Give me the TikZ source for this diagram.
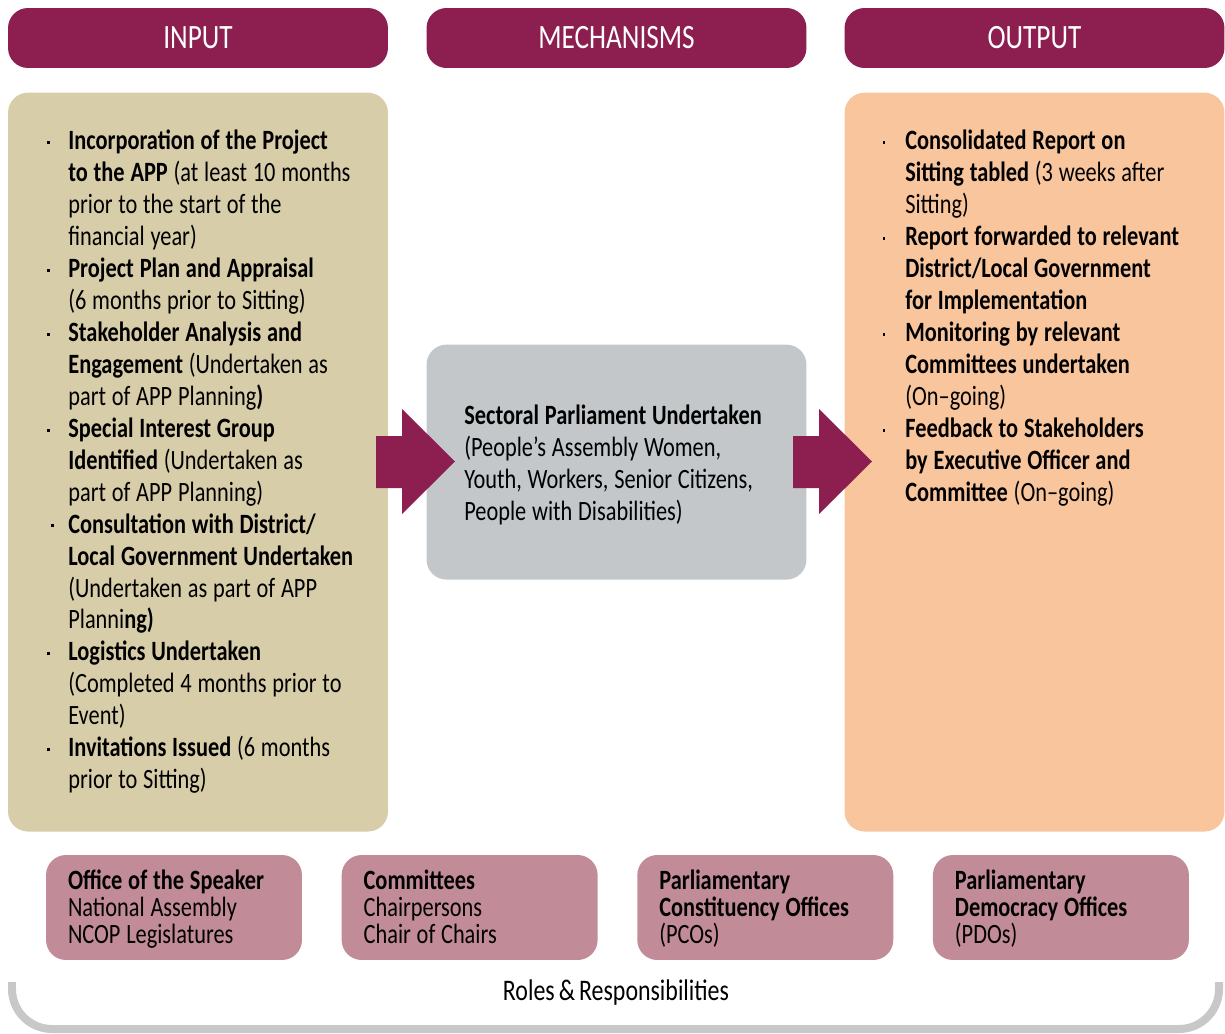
\documentclass[tikz,border=0pt]{standalone}
\usepackage{fontspec}
\setmainfont{Carlito}[FakeStretch=0.8, WordSpace=0.75]
\usetikzlibrary{positioning}

\definecolor{wine}{RGB}{140,31,80}
\definecolor{sand}{RGB}{216,205,169}
\definecolor{stone}{RGB}{195,199,201}
\definecolor{peach}{RGB}{248,197,156}
\definecolor{rose}{RGB}{194,139,152}
\definecolor{rail}{RGB}{200,200,200}

\newcommand\bul{\leavevmode\llap{\rule[0.2em]{0.06cm}{0.06cm}\hspace{0.36cm}}}
\newcommand\cbul{\leavevmode\llap{\rule[0.2em]{0.06cm}{0.06cm}\hspace{0.28cm}}}
\newcommand\obul{\leavevmode\llap{\rule[0.2em]{0.045cm}{0.045cm}\hspace{0.4cm}}}
\newcommand\topstrut{\rule{0pt}{15.3pt}}
\newcommand\tightsp{\spaceskip=3.3pt plus 1pt\relax}

\tikzset{
  hdr/.style={fill=wine, rounded corners=0.4cm, minimum width=7.6cm, minimum height=1.2cm,
    text=white, font=\fontsize{19.4}{22}\selectfont},
  panel/.style={rounded corners=0.4cm, minimum width=7.6cm, minimum height=14.78cm},
  body/.style={anchor=north west, inner sep=0pt, text width=6.8cm, align=left,
    font=\fontsize{15.9}{18.2}\selectfont, execute at begin node=\tightsp},
  role/.style={fill=rose, rounded corners=0.4cm, minimum width=5.12cm, minimum height=2.1cm,
    inner xsep=0.44cm, text width=4.24cm, align=left,
    font=\fontsize{15.9}{15.4}\selectfont, execute at begin node=\tightsp},
  blockarrow/.style={fill=wine}
}

\begin{document}
\begin{tikzpicture}[x=0.02cm, y=-0.02cm]
\useasboundingbox (0,0) rectangle (1225,1034);

% headers
\node[hdr] (input) at (198,38) {INPUT};
\node[hdr] (mech) at (616.5,38) {MECHANISMS};
\node[hdr] (output) at (1034.5,38) {OUTPUT};

% columns
\node[panel, fill=sand, below=0.48cm of input] (inp) {};
\node[panel, fill=peach, below=0.48cm of output] (out) {};
\node[panel, fill=stone, minimum height=4.7cm, below=5.52cm of mech] (sect) {};

\fill[blockarrow] (376,436) -- (402,436) -- (402,409) -- (455,461.5) -- (402,514) -- (402,488) -- (376,488) -- cycle;
\fill[blockarrow] (793,436) -- (819,436) -- (819,409) -- (872,461.5) -- (819,514) -- (819,488) -- (793,488) -- cycle;

\node[body] (inptxt) at (68,126.6) {\strut\bul\textbf{Incorporation of the Project}\\
\textbf{to the APP} (at least 10 months\\
prior to the start of the\\
financial year)\\
\bul\textbf{Project Plan and Appraisal}\\
(6 months prior to Sitting)\\
\bul\textbf{Stakeholder Analysis and}\\
\textbf{Engagement} (Undertaken as\\
part of APP Planning\textbf{)}\\
\bul\textbf{Special Interest Group}\\
\textbf{Identified} (Undertaken as\\
part of APP Planning)\\
\cbul\textbf{Consultation with District/}\\
\textbf{Local Government Undertaken}\\
(Undertaken as part of APP\\
Planni\textbf{ng)}\\
\bul\textbf{Logistics Undertaken}\\
(Completed 4 months prior to\\
Event)\\
\bul\textbf{Invitations Issued} (6 months\\
prior to Sitting)};

\node[body] (secttxt) at (464,401.6) {\strut\textbf{Sectoral Parliament Undertaken}\\
(People's Assembly Women,\\
Youth, Workers, Senior Citizens,\\
People with Disabilities)};

\node[body] (outtxt) at (905,126.6) {\strut\obul\textbf{Consolidated Report on}\\
\textbf{Sitting tabled} (3 weeks after\\
Sitting)\\
\obul\textbf{Report forwarded to relevant}\\
\textbf{District/Local Government}\\
\textbf{for Implementation}\\
\obul\textbf{Monitoring by relevant}\\
\textbf{Committees undertaken}\\
(On--going)\\
\obul\textbf{Feedback to Stakeholders}\\
\textbf{by Executive Officer and}\\
\textbf{Committee} (On--going)};

% roles
\node[role] (speaker) at (174,907.5) {\topstrut\textbf{Office of the Speaker}\\ National Assembly\\ NCOP Legislatures\strut};
\node[role, right=0.78cm of speaker] (comm) {\topstrut\textbf{Committees}\\ Chairpersons\\ Chair of Chairs\strut};
\node[role, right=0.78cm of comm] (pco) {\topstrut\textbf{Parliamentary}\\ \textbf{Constituency Offices}\\ (PCOs)\strut};
\node[role, right=0.78cm of pco] (pdo) {\topstrut\textbf{Parliamentary}\\ \textbf{Democracy Offices}\\ (PDOs)\strut};

\draw[rail, line width=0.16cm, rounded corners=0.8cm] (12,982) -- (12,1029) -- (1219,1029) -- (1219,982);
\node[font=\fontsize{17}{20}\selectfont] (roles) at (616,993) {Roles \& Responsibilities};
\end{tikzpicture}
\end{document}
